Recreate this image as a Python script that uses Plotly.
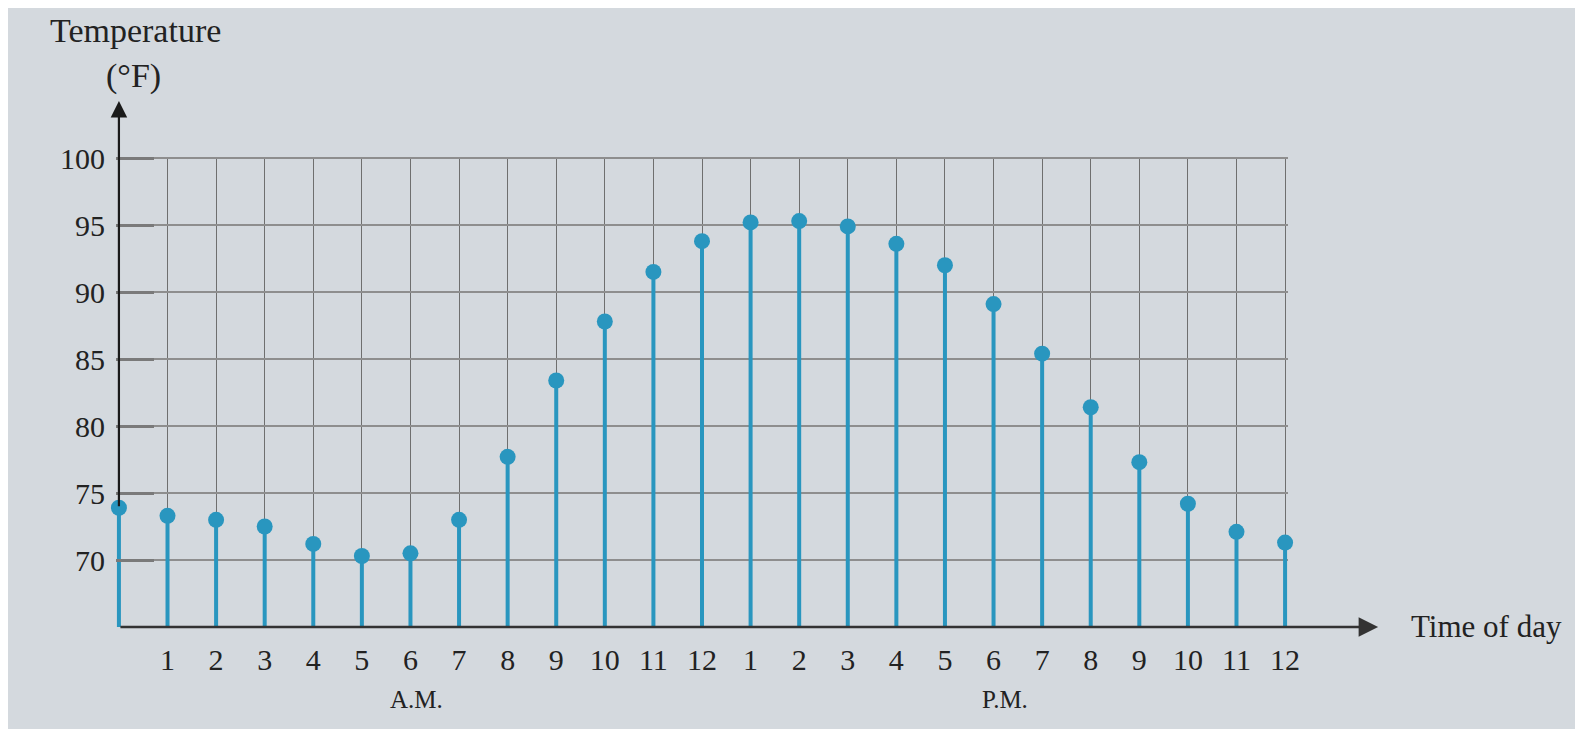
import plotly.graph_objects as go

# ---- data ----
hours = list(range(25))                      # 0 = midnight ... 24 = midnight
hour_labels = [str(h) for h in range(1, 13)] + [str(h) for h in range(1, 13)]
temps = [73.9, 73.3, 73.0, 72.5, 71.2, 70.3, 70.5, 73.0, 77.7, 83.4, 87.8, 91.5,
         93.8, 95.2, 95.3, 94.9, 93.6, 92.0, 89.1, 85.4, 81.4, 77.3, 74.2, 72.1, 71.3]
y_ticks = [70, 75, 80, 85, 90, 95, 100]
base_temp = 65

# ---- layout geometry (figure pixels; page adds an 8px offset) ----
OFF = 8
W, H = 1583, 729
x_lo, x_hi = 0, 24
y_lo, y_hi = base_temp, 100
x0_px, x24_px = 119 - OFF, 1285 - OFF     # figure px of x=0 and x=24
y100_px, ybase_px = 158 - OFF, 627 - OFF  # figure px of y=100 and baseline
pxx = (x24_px - x0_px) / (x_hi - x_lo)
pxy = (ybase_px - y100_px) / (y_hi - y_lo)
ex, ey = 0.06, 0.08                        # small pad so edge gridlines draw
L = x0_px - ex * pxx
R = W - (x24_px + ex * pxx)
T = y100_px - ey * pxy
B = H - ybase_px
x_rng = [x_lo - ex, x_hi + ex]
y_rng = [y_lo, y_hi + ey]
PW, PH = W - L - R, H - T - B


def X(px):   # screen px -> data x
    return x_lo + (px - OFF - x0_px) / pxx


def Y(py):   # screen px -> data y
    return y_lo + (ybase_px - (py - OFF)) / pxy


def PXp(px):  # screen px -> paper x
    return (px - OFF - L) / PW


def PYp(py):  # screen px -> paper y
    return (H - B - (py - OFF)) / PH


STEM = "#2996bf"
FONT = "Liberation Serif"
INK = "#222222"
BG = "#d4d9de"

stem_x, stem_y = [], []
for h, t in zip(hours, temps):
    stem_x += [h, h, None]
    stem_y += [base_temp, t, None]

fig = go.Figure()
fig.add_trace(go.Scatter(x=stem_x, y=stem_y, mode="lines",
                         line=dict(color=STEM, width=4), cliponaxis=False,
                         hoverinfo="skip", showlegend=False))
fig.add_trace(go.Scatter(x=hours, y=temps, mode="markers",
                         marker=dict(color=STEM, size=16), cliponaxis=False,
                         showlegend=False))

fig.update_xaxes(range=x_rng, tickvals=hours[1:], ticktext=hour_labels,
                 showgrid=True, gridcolor="#6f6f6f", gridwidth=1.2,
                 zeroline=False, showline=False, ticks="", ticklabelstandoff=12,
                 tickfont=dict(family=FONT, size=30, color=INK))
fig.update_yaxes(range=y_rng, tickvals=y_ticks,
                 showgrid=True, gridcolor="#8e8e8e", gridwidth=1.8,
                 zeroline=False, showline=False,
                 ticks="inside", ticklen=38, tickwidth=3, tickcolor="#7a7a7a",
                 ticklabelstandoff=10,
                 tickfont=dict(family=FONT, size=30, color=INK))

annotations = [
    # y axis arrow (starts above the first stem so the stem stays visible)
    dict(x=0, y=Y(101), ax=0, ay=temps[0], xref="x", yref="y", axref="x", ayref="y",
         text="", showarrow=True, arrowhead=2, arrowsize=1.5, arrowwidth=2.2,
         arrowcolor="#1a1a1a"),
    # x axis arrow
    dict(x=X(1378), y=base_temp, ax=0, ay=base_temp, xref="x", yref="y", axref="x",
         ayref="y", text="", showarrow=True, arrowhead=2, arrowsize=1.5,
         arrowwidth=2.6, arrowcolor="#333333"),
    dict(x=PXp(136), y=PYp(30), xref="paper", yref="paper", text="Temperature",
         showarrow=False, font=dict(family=FONT, size=34, color=INK),
         xanchor="center", yanchor="middle"),
    dict(x=PXp(134), y=PYp(76), xref="paper", yref="paper", text="(°F)",
         showarrow=False, font=dict(family=FONT, size=34, color=INK),
         xanchor="center", yanchor="middle"),
    dict(x=PXp(1409), y=PYp(626), xref="paper", yref="paper", text="Time of day",
         showarrow=False, font=dict(family=FONT, size=31, color=INK),
         xanchor="left", yanchor="middle"),
    dict(x=PXp(417), y=PYp(700), xref="paper", yref="paper", text="A.M.",
         showarrow=False, font=dict(family=FONT, size=25, color=INK),
         xanchor="center", yanchor="middle"),
    dict(x=PXp(1005), y=PYp(700), xref="paper", yref="paper", text="P.M.",
         showarrow=False, font=dict(family=FONT, size=25, color=INK),
         xanchor="center", yanchor="middle"),
]

fig.update_layout(width=W, height=H, margin=dict(l=L, r=R, t=T, b=B),
                  paper_bgcolor=BG, plot_bgcolor=BG, annotations=annotations,
                  showlegend=False)

fig.write_html("out.html")
